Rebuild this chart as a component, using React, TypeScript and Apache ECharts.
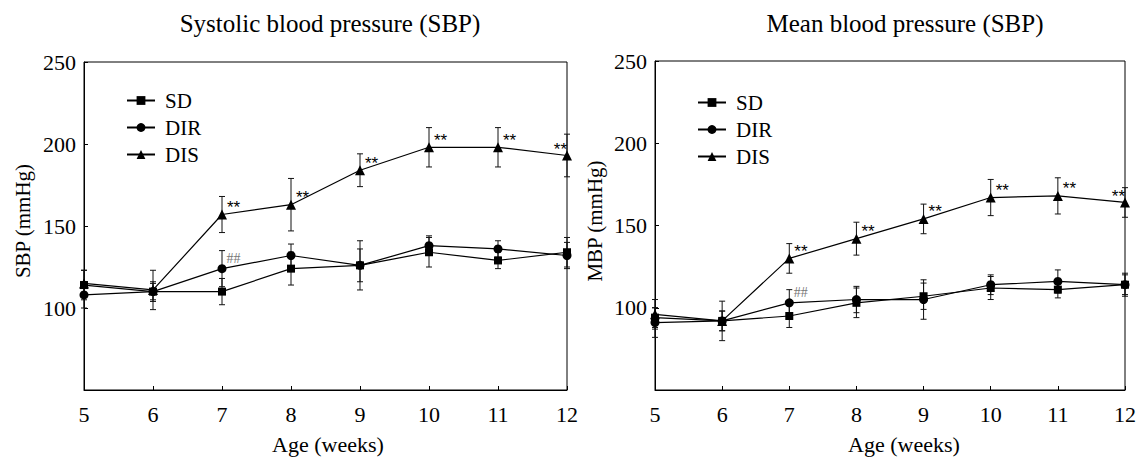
import React, { useEffect, useRef } from "react";
import * as echarts from "echarts";

const weeks = [5, 6, 7, 8, 9, 10, 11, 12];
const yTicks = [50, 100, 150, 200, 250];
const groups = ["SD", "DIR", "DIS"];

// Systolic blood pressure (mmHg)
const sbpSD = [114, 110, 110, 124, 126, 134, 129, 134];
const sbpDIR = [108, 110, 124, 132, 126, 138, 136, 132];
const sbpDIS = [115, 111, 157, 163, 184, 198, 198, 193];
const sbpSDErr = [9, 6, 8, 10, 15, 9, 5, 9];
const sbpDIRErr = [8, 5, 11, 7, 10, 6, 5, 8];
const sbpDISErr = [8, 12, 11, 16, 10, 12, 12, 13];

// Mean blood pressure (mmHg)
const mbpSD = [94, 92, 95, 103, 107, 112, 111, 114];
const mbpDIR = [91, 92, 103, 105, 105, 114, 116, 114];
const mbpDIS = [96, 92, 130, 142, 154, 167, 168, 164];
const mbpSDErr = [6, 6, 7, 9, 8, 7, 5, 6];
const mbpDIRErr = [9, 6, 8, 8, 12, 6, 7, 7];
const mbpDISErr = [9, 12, 9, 10, 9, 11, 11, 9];

// significance marks
const disMarks = ["", "", "**", "**", "**", "**", "**", "**"];
const dirMarks = ["", "", "##", "", "", "", "", ""];

const titles = ["Systolic blood pressure (SBP)", "Mean blood pressure (SBP)"];
const yNames = ["SBP (mmHg)", "MBP (mmHg)"];
const xName = "Age (weeks)";

const SERIF = "Liberation Serif";
const symbols = ["rect", "circle", "triangle"];
const symbolSizes = [8, 9, 10];

export default function App() {
  const ref = useRef<HTMLDivElement>(null);

  useEffect(() => {
    if (!ref.current) return;
    const chart = echarts.init(ref.current, null, { renderer: "svg" });

    const grids = [
      { left: 84, right: 1139 - 567, top: 62, bottom: 457 - 390, show: true, borderColor: "#000", borderWidth: 1 },
      { left: 655, right: 1139 - 1132, top: 61, bottom: 457 - 390, show: true, borderColor: "#000", borderWidth: 1 },
    ];

    const xAxes = [0, 1].map((g) => ({
      type: "value",
      gridIndex: g,
      min: 5,
      max: 12,
      interval: 1,
      axisLine: { lineStyle: { color: "#000", width: 1 } },
      axisTick: { inside: true, length: 4, lineStyle: { color: "#000" } },
      axisLabel: { fontFamily: SERIF, fontSize: 22, color: "#000", margin: 13 },
      splitLine: { show: false },
    }));

    const yAxes = [0, 1].map((g) => ({
      type: "value",
      gridIndex: g,
      min: yTicks[0],
      max: yTicks[yTicks.length - 1],
      interval: 50,
      axisLine: { show: true, lineStyle: { color: "#000", width: 1 } },
      axisTick: { show: true, inside: true, length: 4, lineStyle: { color: "#000" } },
      axisLabel: {
        fontFamily: SERIF,
        fontSize: 22,
        color: "#000",
        margin: 8,
        padding: [4, 0, 0, 0],
        formatter: (v: number) => (v === yTicks[0] ? "" : String(v)),
      },
      splitLine: { show: false },
    }));

    const plots = [
      { vals: [sbpSD, sbpDIR, sbpDIS], errs: [sbpSDErr, sbpDIRErr, sbpDISErr] },
      { vals: [mbpSD, mbpDIR, mbpDIS], errs: [mbpSDErr, mbpDIRErr, mbpDISErr] },
    ];

    const markLabel = (txt: string, i: number, kind: "dis" | "dir") => {
      if (!txt) return { show: false };
      const last = i === weeks.length - 1;
      const base =
        kind === "dis"
          ? { fontFamily: "Liberation Sans", fontSize: 17, color: "#000" }
          : { fontFamily: SERIF, fontSize: 14, color: "#777" };
      return {
        show: true,
        formatter: txt,
        position: last ? "left" : "right",
        distance: 0,
        offset: last ? [5, kind === "dis" ? -6 : -10] : [0, kind === "dis" ? -7 : -10],
        textBorderWidth: 0,
        ...base,
      };
    };

    const series: any[] = [];
    plots.forEach((p, g) => {
      // error bars
      p.vals.forEach((vals, k) => {
        series.push({
          type: "custom",
          xAxisIndex: g,
          yAxisIndex: g,
          clip: false,
          silent: true,
          z: 1,
          data: weeks.map((w, i) => [w, vals[i] - p.errs[k][i], vals[i] + p.errs[k][i]]),
          encode: { x: 0, y: [1, 2] },
          renderItem: (_params: any, api: any) => {
            const x = api.value(0);
            const lo = api.coord([x, api.value(1)]);
            const hi = api.coord([x, api.value(2)]);
            const w = 3;
            const st = { stroke: "#111", lineWidth: 1 };
            return {
              type: "group",
              children: [
                { type: "line", shape: { x1: hi[0], y1: hi[1], x2: lo[0], y2: lo[1] }, style: st },
                { type: "line", shape: { x1: hi[0] - w, y1: hi[1], x2: hi[0] + w, y2: hi[1] }, style: st },
                { type: "line", shape: { x1: lo[0] - w, y1: lo[1], x2: lo[0] + w, y2: lo[1] }, style: st },
              ],
            };
          },
        });
      });
      // lines
      p.vals.forEach((vals, k) => {
        series.push({
          type: "line",
          name: groups[k],
          xAxisIndex: g,
          yAxisIndex: g,
          clip: false,
          z: 3,
          symbol: symbols[k],
          symbolSize: symbolSizes[k],
          lineStyle: { color: "#000", width: 1.2 },
          itemStyle: { color: "#000" },
          data: weeks.map((w, i) => ({
            value: [w, vals[i]],
            label:
              k === 2
                ? markLabel(disMarks[i], i, "dis")
                : k === 1
                ? markLabel(dirMarks[i], i, "dir")
                : { show: false },
          })),
        });
      });
    });

    const legends = [
      { left: 121, top: 85 },
      { left: 692, top: 87 },
    ].map((pos) => ({
      ...pos,
      orient: "vertical",
      data: groups,
      itemWidth: 28,
      itemHeight: 11,
      itemGap: 6,
      selectedMode: false,
      textStyle: { fontFamily: SERIF, fontSize: 21, color: "#000", padding: [0, 0, 0, 5] },
    }));

    const txt = (text: string, x: number, y: number, size: number, rot = 0) => ({
      type: "text",
      x,
      y,
      rotation: rot,
      style: {
        text,
        fontFamily: SERIF,
        fontSize: size,
        fill: "#000",
        align: "center",
        verticalAlign: "middle",
      },
    });

    chart.setOption({
      animation: false,
      backgroundColor: "#fff",
      grid: grids,
      xAxis: xAxes,
      yAxis: yAxes,
      legend: legends,
      series,
      graphic: [
        txt(titles[0], 330, 23, 25),
        txt(titles[1], 905, 23, 25),
        txt(yNames[0], 23, 221, 21, Math.PI / 2),
        txt(yNames[1], 595, 221, 21, Math.PI / 2),
        txt(xName, 328, 444, 22),
        txt(xName, 904, 444, 22),
      ],
    });

    return () => chart.dispose();
  }, []);

  return (
    <div
      ref={ref}
      style={{ position: "fixed", left: 0, top: 0, width: 1139, height: 457, background: "#fff" }}
    />
  );
}
